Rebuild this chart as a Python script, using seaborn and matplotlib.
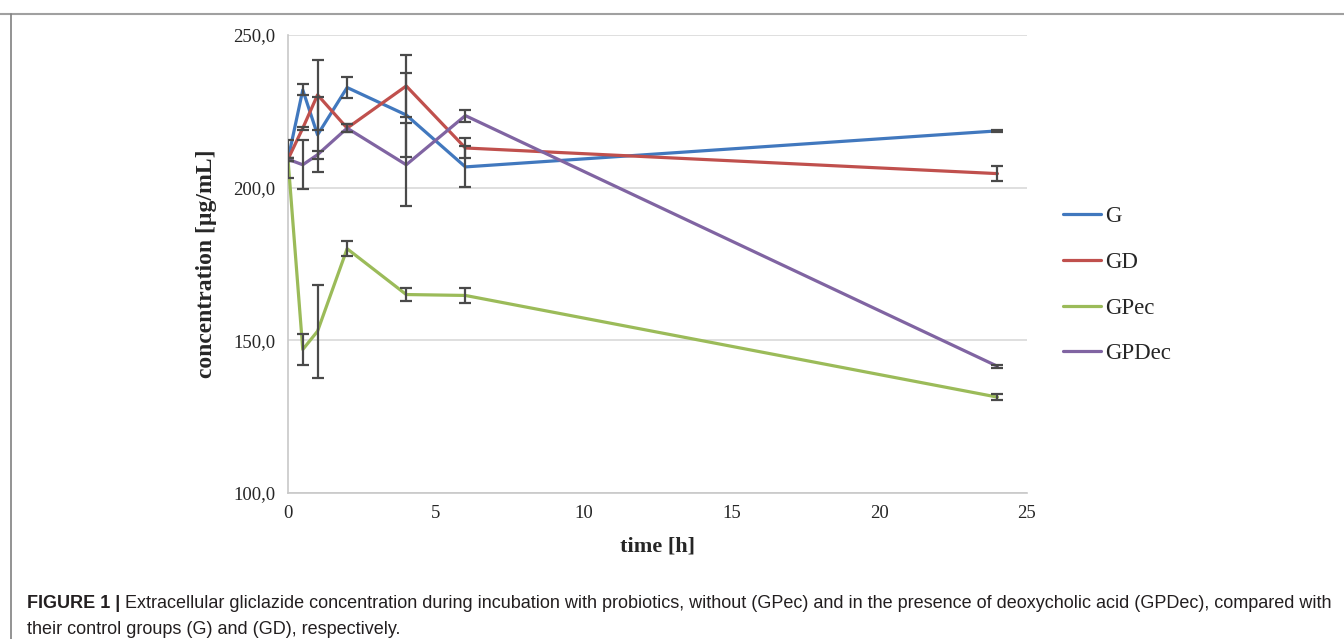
import matplotlib
matplotlib.use("Agg")
import matplotlib.pyplot as plt
from matplotlib.lines import Line2D
import seaborn as sns
import pandas as pd

# time points [h]
time = [0, 0.5, 1, 2, 4, 6, 24]

# mean concentration [ug/mL] and error bars per group
G = [209.3, 232.0, 217.3, 232.8, 223.8, 206.8, 218.6]
G_err = [0.5, 1.8, 12.3, 3.3, 13.9, 6.7, 0.4]
GD = [209.3, 219.5, 230.4, 219.5, 233.3, 213.0, 204.6]
GD_err = [0.5, 0.5, 11.4, 1.2, 10.2, 3.3, 2.4]
GPec = [209.3, 147.0, 153.0, 180.0, 165.0, 164.7, 131.4]
GPec_err = [6.2, 5.0, 15.2, 2.5, 2.0, 2.4, 1.1]
GPDec = [209.3, 207.5, 210.8, 219.5, 207.5, 223.6, 141.5]
GPDec_err = [0.5, 8.0, 1.3, 1.2, 13.6, 2.0, 0.4]

groups = ["G", "GD", "GPec", "GPDec"]
colors = ["#4178BE", "#C0504D", "#9BBB59", "#8064A2"]
y_ticks = [100, 150, 200, 250]
x_ticks = [0, 5, 10, 15, 20, 25]

caption_bold = "FIGURE 1 |"
caption_1 = (" Extracellular gliclazide concentration during incubation with probiotics, "
             "without (GPec) and in the presence of deoxycholic acid (GPDec), compared with")
caption_2 = "their control groups (G) and (GD), respectively."

values = {"G": G, "GD": GD, "GPec": GPec, "GPDec": GPDec}
errors = {"G": G_err, "GD": GD_err, "GPec": GPec_err, "GPDec": GPDec_err}

rows = []
for g in groups:
    for t, v in zip(time, values[g]):
        rows.append({"time": t, "conc": v, "group": g})
df = pd.DataFrame(rows)

sns.set_style("white")
serif = ["Liberation Serif", "DejaVu Serif"]
sans = ["Liberation Sans", "DejaVu Sans"]

fig = plt.figure(figsize=(13.44, 6.39), dpi=100)
ax = fig.add_axes([288 / 1344, 1 - 493 / 639, (1027 - 288) / 1344, (493 - 35) / 639])

sns.lineplot(data=df, x="time", y="conc", hue="group", hue_order=groups,
             palette=colors, linewidth=2.3, ax=ax, legend=False, zorder=3)

# error bars on top of lines, like the original
for g in groups:
    ax.errorbar(time, values[g], yerr=errors[g], fmt="none", ecolor="#4a4a4a",
                elinewidth=1.6, capsize=4.5, capthick=1.6, zorder=4)

ax.set_xlim(0, 25)
ax.set_ylim(100, 250)
ax.set_xticks(x_ticks)
ax.set_yticks(y_ticks)
ax.set_xticklabels([str(x) for x in x_ticks], family=serif, fontsize=13.5)
ax.set_yticklabels([f"{y},0" for y in y_ticks], family=serif, fontsize=13.5)
ax.tick_params(axis="x", length=0, pad=9)
ax.tick_params(axis="y", length=0, pad=9)
ax.yaxis.grid(True, color="#d9d9d9", linewidth=1.2)
ax.set_axisbelow(True)
for s in ["top", "right"]:
    ax.spines[s].set_visible(False)
for s in ["left", "bottom"]:
    ax.spines[s].set_color("#c8c8c8")
    ax.spines[s].set_linewidth(1.2)

ax.set_xlabel("time [h]", family=serif, fontsize=16, fontweight="bold", labelpad=10)
ax.set_ylabel("concentration [µg/mL]", family=serif, fontsize=17, fontweight="bold", labelpad=12)

handles = [Line2D([0], [0], color=c, lw=2.3) for c in colors]
fig.legend(handles, groups, loc="upper left", bbox_to_anchor=(1063 / 1344, 1 - 206 / 639),
           frameon=False, prop={"family": serif, "size": 16.5}, handlelength=1.65,
           handletextpad=0.2, labelspacing=1.08, borderaxespad=0, borderpad=0)

# frame lines of the figure panel
fig.add_artist(Line2D([0, 1], [1 - 14 / 639, 1 - 14 / 639], color="#a0a0a0", lw=1.5,
                      transform=fig.transFigure))
fig.add_artist(Line2D([11 / 1344, 11 / 1344], [0, 1 - 14 / 639], color="#808080", lw=1.2,
                      transform=fig.transFigure))

# caption: bold label followed by plain text
fs = 13
fig.canvas.draw()
r = fig.canvas.get_renderer()
tb = fig.text(27 / 1344, 1 - 608 / 639, caption_bold, family=sans, fontsize=fs,
              fontweight="bold", color="#231f20", va="baseline")
bb = tb.get_window_extent(r)
t1 = fig.text(bb.x1 / 1344, 1 - 608 / 639, caption_1, family=sans, fontsize=fs,
              color="#231f20", va="baseline")
w = t1.get_window_extent(r).x1
if w > 0:
    scale = (1330 - 27) / (w - 27)
    fs = fs * scale
    tb.set_fontsize(fs)
    t1.set_fontsize(fs)
    bb = tb.get_window_extent(r)
    t1.set_x(bb.x1 / 1344)
fig.text(27 / 1344, 1 - 634 / 639, caption_2, family=sans, fontsize=fs,
         color="#231f20", va="baseline")

fig.savefig("out.png", dpi=100)
